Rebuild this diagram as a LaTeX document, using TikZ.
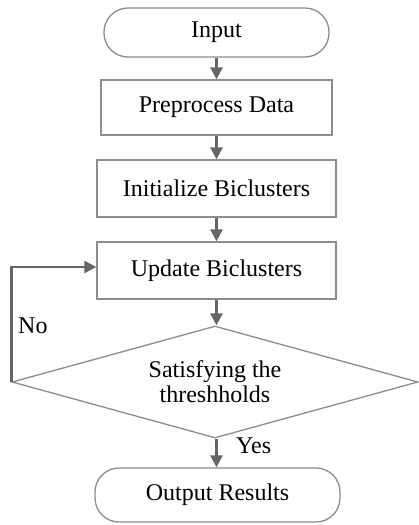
\documentclass[tikz,border=0pt]{standalone}
\usepackage{fontspec}
\setmainfont{Liberation Serif}
\usetikzlibrary{arrows.meta,shapes.geometric}
\definecolor{arr}{HTML}{666666}
\definecolor{bord}{HTML}{8C8C8C}
\begin{document}
\begin{tikzpicture}[x=1pt,y=-1pt,
  txt/.style={font=\fontsize{24}{25}\selectfont,text=black},
  box/.style={txt,draw=bord,line width=1.3pt,fill=white,inner sep=0pt},
  term/.style={box,rounded corners=24pt},
  dia/.style={txt,draw=bord,line width=1.3pt,diamond,aspect=3.6,inner sep=0pt,
    minimum width=406pt,minimum height=112pt,align=center},
  flow/.style={draw=arr,line width=2.6pt,-{Triangle[length=12pt,width=12pt]}},
  lbl/.style={txt,anchor=west,inner sep=0pt}]
\useasboundingbox (0,0) rectangle (419,525);
\node[term,minimum width=225pt,minimum height=49pt] (in) at (216.5,32.5) {Input};
\node[box,minimum width=231pt,minimum height=55pt] (pre) at (216.5,107.5) {Preprocess Data};
\node[box,minimum width=239pt,minimum height=57pt] (init) at (216.5,188.5) {Initialize Biclusters};
\node[box,minimum width=239pt,minimum height=57pt] (upd) at (216.5,270.5) {Update Biclusters};
\node[dia] (dec) at (215,382) {Satisfying the\\threshholds};
\node[term,minimum width=245pt,minimum height=54pt] (out) at (217.5,495) {Output Results};
\node[lbl] (no) at (18,326) {No};
\node[lbl] (yes) at (236,446) {Yes};
\draw[flow] (in.south) -- (pre.north);
\draw[flow] (pre.south) -- (init.north);
\draw[flow] (init.south) -- (upd.north);
\draw[flow] (upd.south) -- (upd.south |- dec.north);
\draw[flow] (dec.south -| upd.south) -- (upd.south |- out.north);
\draw[flow] (dec.west) |- ([yshift=3.5pt]upd.west);
\end{tikzpicture}
\end{document}
